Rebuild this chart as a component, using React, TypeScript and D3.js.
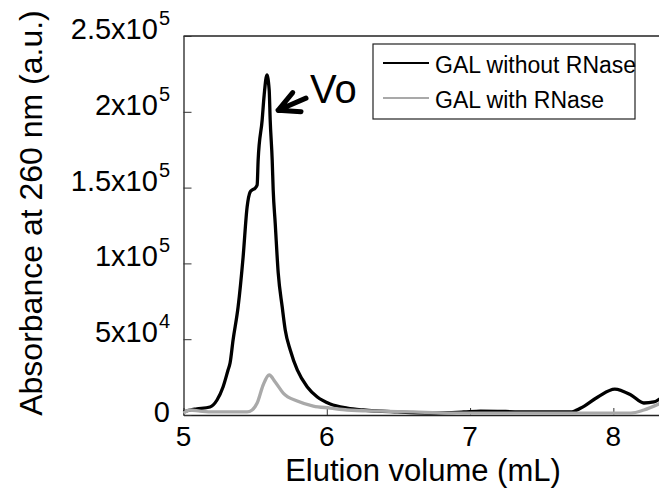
import React, { useRef, useEffect } from "react";
import * as d3 from "d3";

// elution profile, GAL without RNase (black)
const volNoRNase = [5.0, 5.045, 5.094, 5.185, 5.234, 5.276, 5.311, 5.325, 5.346, 5.381, 5.416, 5.444, 5.465, 5.479, 5.5, 5.514, 5.521, 5.549, 5.563, 5.582, 5.598, 5.605, 5.619, 5.626, 5.64, 5.661, 5.689, 5.71, 5.745, 5.794, 5.864, 5.934, 6.024, 6.143, 6.255, 6.493, 6.724, 6.955, 7.073, 7.423, 7.703, 7.773, 7.892, 8.01, 8.123, 8.213, 8.283, 8.332];
const absNoRNase = [2000, 3300, 4000, 5300, 9900, 18500, 29700, 34300, 49500, 71200, 104200, 137200, 147100, 148400, 149700, 151700, 168200, 194600, 211100, 224300, 214400, 194600, 168200, 148400, 126600, 93700, 71200, 56100, 42900, 29700, 18500, 11900, 7300, 4600, 3300, 2000, 1300, 2000, 2600, 2000, 2000, 4600, 11900, 17100, 13200, 7900, 8600, 11200];

// elution profile, GAL with RNase (gray)
const volRNase = [5.0, 5.045, 5.115, 5.206, 5.444, 5.479, 5.514, 5.556, 5.598, 5.64, 5.696, 5.794, 5.906, 6.024, 6.143, 6.374, 6.605, 6.842, 7.073, 8.123, 8.213, 8.332];
const absRNase = [1300, 3300, 2600, 2000, 2000, 3300, 7900, 19800, 26400, 21800, 14500, 9200, 5900, 4600, 3300, 2600, 2000, 1300, 1300, 1300, 3300, 7900];

const xTicks = [5, 6, 7, 8];
const yTicks = [0, 50000, 100000, 150000, 200000, 250000];
const yTickMantissa = ["0", "5", "1", "1.5", "2", "2.5"];
const yTickExponent = ["", "4", "5", "5", "5", "5"];

const seriesNames = ["GAL without RNase", "GAL with RNase"];
const seriesColors = ["#000000", "#a9a9a9"];

// Vo annotation (data coordinates)
const voTip = [5.66, 201000];
const voTail = [5.855, 209000];
const voLabel = [5.883, 205800];

const FONT = "'Liberation Sans', Arial, sans-serif";

const App = () => {
  const ref = useRef<SVGSVGElement>(null);

  useEffect(() => {
    const width = 659,
      height = 488;
    const svg = d3.select(ref.current).attr("width", width).attr("height", height);
    svg.selectAll("*").remove();

    const x = d3.scaleLinear().domain([5, 8.5]).range([183.5, 685]);
    const y = d3.scaleLinear().domain([0, 250000]).range([415, 36]);

    // top border
    svg
      .append("line")
      .attr("x1", x(5))
      .attr("x2", x(8.5))
      .attr("y1", y(250000))
      .attr("y2", y(250000))
      .attr("stroke", "#222")
      .attr("stroke-width", 1.3);

    // X axis
    const gx = svg
      .append("g")
      .attr("transform", `translate(0,${y(0)})`)
      .call(d3.axisBottom(x).tickValues(xTicks).tickSizeInner(-7).tickSizeOuter(0).tickFormat(() => ""));
    gx.select(".domain").attr("stroke", "#222").attr("stroke-width", 1.3);
    gx.selectAll(".tick line").attr("stroke", "#333");

    svg
      .selectAll("text.xlab")
      .data(xTicks)
      .enter()
      .append("text")
      .attr("class", "xlab")
      .attr("x", (d) => x(d))
      .attr("y", 446)
      .attr("text-anchor", "middle")
      .style("font-family", FONT)
      .style("font-size", "28px")
      .text((d) => d);

    // Y axis
    const gy = svg
      .append("g")
      .attr("transform", `translate(${x(5)},0)`)
      .call(d3.axisLeft(y).tickValues(yTicks).tickSizeInner(-8).tickSizeOuter(0).tickFormat(() => ""));
    gy.select(".domain").attr("stroke", "#222").attr("stroke-width", 1.3);
    gy.selectAll(".tick line").attr("stroke", "#333");

    yTicks.forEach((v, i) => {
      const t = svg
        .append("text")
        .attr("x", 170)
        .attr("y", y(v) + (yTickExponent[i] ? 3 : 7))
        .attr("text-anchor", "end")
        .style("font-family", FONT)
        .style("font-size", "29px");
      if (yTickExponent[i]) {
        t.append("tspan").text(yTickMantissa[i] + "x10");
        t.append("tspan").attr("dx", 1).attr("dy", -14).style("font-size", "20px").text(yTickExponent[i]);
      } else {
        t.text(yTickMantissa[i]);
      }
    });

    // axis titles
    svg
      .append("text")
      .attr("x", 423)
      .attr("y", 481)
      .attr("text-anchor", "middle")
      .style("font-family", FONT)
      .style("font-size", "31px")
      .text("Elution volume (mL)");
    svg
      .append("text")
      .attr("transform", "translate(42,213) rotate(-90)")
      .attr("text-anchor", "middle")
      .style("font-family", FONT)
      .style("font-size", "32px")
      .text("Absorbance at 260 nm (a.u.)");

    // curves
    const line = d3
      .line<[number, number]>()
      .x((d) => x(d[0]))
      .y((d) => y(d[1]))
      .curve(d3.curveMonotoneX);
    const series = [
      d3.zip(volNoRNase, absNoRNase),
      d3.zip(volRNase, absRNase),
    ];
    series.forEach((s, i) => {
      svg
        .append("path")
        .datum(s)
        .attr("d", line as any)
        .attr("fill", "none")
        .attr("stroke", seriesColors[i])
        .attr("stroke-width", 3.3)
        .attr("stroke-linejoin", "round");
    });

    // Vo arrow
    const tx = x(voTip[0]),
      ty = y(voTip[1]);
    const ang = Math.atan2(y(voTail[1]) - ty, x(voTail[0]) - tx);
    const arm = 23,
      spread = (27 * Math.PI) / 180;
    const a1 = [tx + arm * Math.cos(ang - spread), ty + arm * Math.sin(ang - spread)];
    const a2 = [tx + arm * Math.cos(ang + spread), ty + arm * Math.sin(ang + spread)];
    svg
      .append("path")
      .attr("d", `M${x(voTail[0])},${y(voTail[1])}L${tx},${ty}M${a1[0]},${a1[1]}L${tx},${ty}L${a2[0]},${a2[1]}`)
      .attr("fill", "none")
      .attr("stroke", "#000")
      .attr("stroke-width", 5)
      .attr("stroke-linejoin", "round")
      .attr("stroke-linecap", "round");
    svg
      .append("text")
      .attr("x", x(voLabel[0]))
      .attr("y", y(voLabel[1]))
      .style("font-family", FONT)
      .style("font-size", "40px")
      .text("Vo");

    // legend
    const lg = svg.append("g");
    lg.append("rect")
      .attr("x", 373)
      .attr("y", 44)
      .attr("width", 262)
      .attr("height", 75)
      .attr("fill", "#fff")
      .attr("stroke", "#222")
      .attr("stroke-width", 1.2);
    seriesNames.forEach((name, i) => {
      const ly = 63 + i * 35;
      lg.append("line")
        .attr("x1", 383)
        .attr("x2", 429)
        .attr("y1", ly)
        .attr("y2", ly)
        .attr("stroke", seriesColors[i])
        .attr("stroke-width", 2.2);
      lg.append("text")
        .attr("x", 435)
        .attr("y", ly + 10)
        .style("font-family", FONT)
        .style("font-size", "23px")
        .text(name);
    });
  }, []);

  return (
    <svg ref={ref} style={{ position: "absolute", left: 0, top: 0, background: "#fff" }}></svg>
  );
};

export default App;
